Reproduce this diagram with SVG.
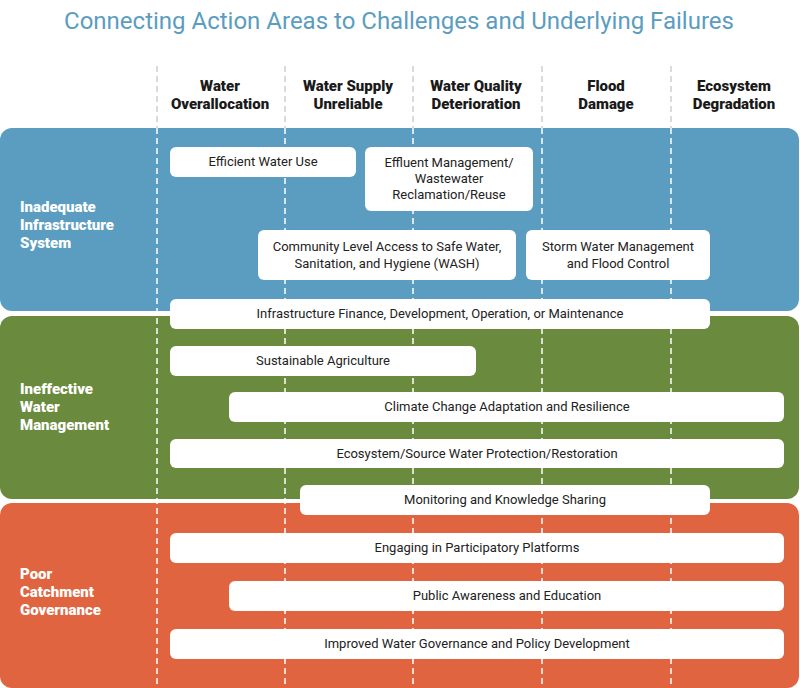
<svg xmlns="http://www.w3.org/2000/svg" width="800" height="688" viewBox="0 0 800 688">
<style>
.t{font-family:"Roboto","Liberation Sans",sans-serif;font-size:13px;fill:#222;text-anchor:middle}
.h{font-family:"Roboto","Liberation Sans",sans-serif;font-size:15px;font-weight:900;fill:#1a1a1a;text-anchor:middle}
.r{font-family:"Roboto","Liberation Sans",sans-serif;font-size:15px;font-weight:900;fill:#fff}
.b{fill:#fff}
.dg{stroke:#d0d0d0;stroke-width:1.5;stroke-dasharray:6,4;fill:none}
.dw{stroke:#fff;stroke-width:1.5;stroke-dasharray:6,4;fill:none}
</style>
<rect width="800" height="688" fill="#fff"/>
<text x="399" y="29" style="font-family:'Roboto','Liberation Sans',sans-serif;font-size:24px;fill:#5b9dc0;text-anchor:middle">Connecting Action Areas to Challenges and Underlying Failures</text>
<g id="headers">
<text class="h" x="220" y="91">Water</text><text class="h" x="220" y="109">Overallocation</text>
<text class="h" x="348" y="91">Water Supply</text><text class="h" x="348" y="109">Unreliable</text>
<text class="h" x="476" y="91">Water Quality</text><text class="h" x="476" y="109">Deterioration</text>
<text class="h" x="606" y="91">Flood</text><text class="h" x="606" y="109">Damage</text>
<text class="h" x="734" y="91">Ecosystem</text><text class="h" x="734" y="109">Degradation</text>
</g>
<g id="bands">
<rect x="0" y="128" width="799" height="183" rx="12" fill="#5b9dc0"/>
<rect x="0" y="316" width="799" height="183" rx="12" fill="#6a8a3e"/>
<rect x="0" y="503" width="799" height="185" rx="12" fill="#e0643f"/>
<text class="r" x="20" y="212">Inadequate</text><text class="r" x="20" y="230">Infrastructure</text><text class="r" x="20" y="248">System</text>
<text class="r" x="20" y="394">Ineffective</text><text class="r" x="20" y="412">Water</text><text class="r" x="20" y="430">Management</text>
<text class="r" x="20" y="579">Poor</text><text class="r" x="20" y="597">Catchment</text><text class="r" x="20" y="615">Governance</text>
</g>
<g id="connectors">
<path class="dg" d="M157 66V128M285 66V128M413 66V128M542 66V128M671 66V128"/>
<path class="dw" d="M157 128V688M285 128V688M413 128V688M542 128V688M671 128V688"/>
</g>
<g id="n1"><rect class="b" x="170" y="147" width="186" height="30" rx="6"/><text class="t" x="263" y="166">Efficient Water Use</text></g>
<g id="n2"><rect class="b" x="365" y="147" width="168" height="64" rx="6"/><text class="t" x="449" y="167">Effluent Management/</text><text class="t" x="449" y="183">Wastewater</text><text class="t" x="449" y="199">Reclamation/Reuse</text></g>
<g id="n3"><rect class="b" x="258" y="230" width="258" height="50" rx="6"/><text class="t" x="387" y="251">Community Level Access to Safe Water,</text><text class="t" x="387" y="268">Sanitation, and Hygiene (WASH)</text></g>
<g id="n4"><rect class="b" x="526" y="230" width="184" height="50" rx="6"/><text class="t" x="618" y="251">Storm Water Management</text><text class="t" x="618" y="268">and Flood Control</text></g>
<g id="n5"><rect class="b" x="170" y="299" width="540" height="30" rx="6"/><text class="t" x="440" y="318">Infrastructure Finance, Development, Operation, or Maintenance</text></g>
<g id="n6"><rect class="b" x="170" y="346" width="306" height="30" rx="6"/><text class="t" x="323" y="365">Sustainable Agriculture</text></g>
<g id="n7"><rect class="b" x="229" y="392" width="555" height="30" rx="6"/><text class="t" x="507" y="411">Climate Change Adaptation and Resilience</text></g>
<g id="n8"><rect class="b" x="170" y="439" width="614" height="29" rx="6"/><text class="t" x="477" y="458">Ecosystem/Source Water Protection/Restoration</text></g>
<g id="n9"><rect class="b" x="300" y="485" width="410" height="30" rx="6"/><text class="t" x="505" y="504">Monitoring and Knowledge Sharing</text></g>
<g id="n10"><rect class="b" x="170" y="533" width="614" height="30" rx="6"/><text class="t" x="477" y="552">Engaging in Participatory Platforms</text></g>
<g id="n11"><rect class="b" x="229" y="581" width="555" height="30" rx="6"/><text class="t" x="507" y="600">Public Awareness and Education</text></g>
<g id="n12"><rect class="b" x="170" y="629" width="614" height="30" rx="6"/><text class="t" x="477" y="648">Improved Water Governance and Policy Development</text></g>
</svg>
